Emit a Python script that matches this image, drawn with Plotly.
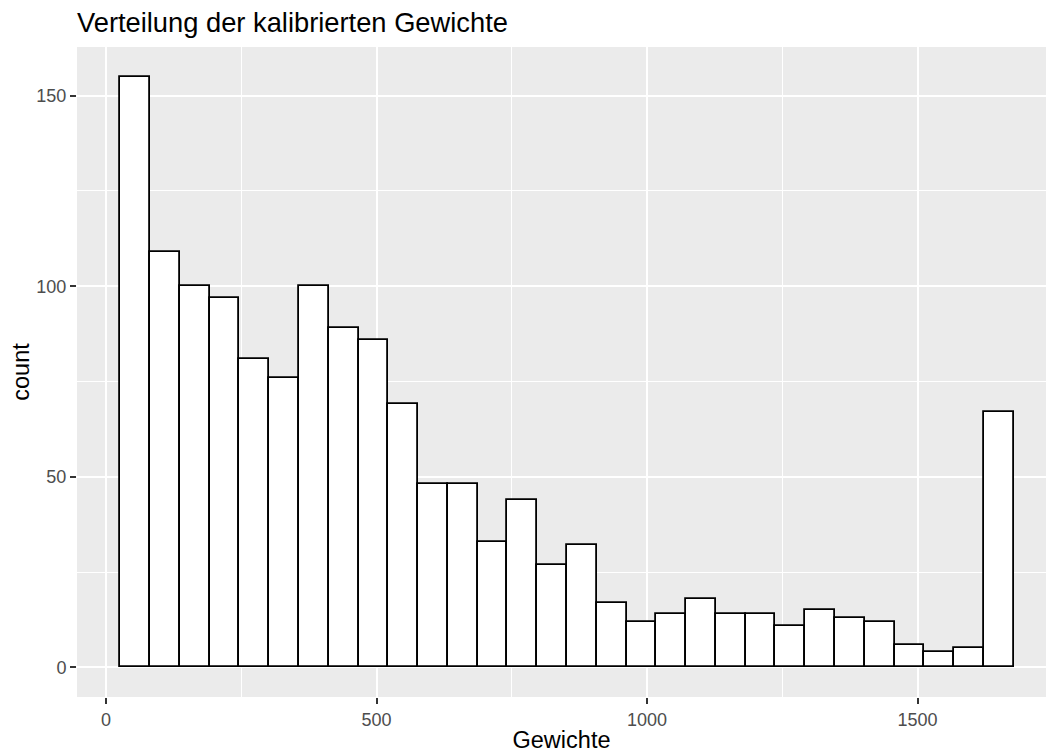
import plotly.graph_objects as go

# Histogram data (30 bins)
bin_start = 26.4
bin_width = 55.05
counts = [155, 109, 100, 97, 81, 76, 100, 89, 86, 69,
          48, 48, 33, 44, 27, 32, 17, 12, 14, 18,
          14, 14, 11, 15, 13, 12, 6, 4, 5, 67]
x_ticks = [0, 500, 1000, 1500]
y_ticks = [0, 50, 100, 150]

title = "Verteilung der kalibrierten Gewichte"
x_title = "Gewichte"
y_title = "count"

centers = [bin_start + bin_width * (i + 0.5) for i in range(len(counts))]

fig = go.Figure()
fig.add_trace(go.Bar(
    x=centers, y=counts, width=bin_width,
    marker=dict(color="white", line=dict(color="black", width=1.8)),
    showlegend=False, hoverinfo="x+y",
))

font_family = "Liberation Sans, Arial, sans-serif"
H = 753
W = 1046
L = 77
px_per_unit = 0.541
x_lo = -53.6
x_hi = x_lo + (W - L) / px_per_unit

fig.update_layout(
    width=W, height=H,
    margin=dict(l=L, r=0, t=47, b=56),
    paper_bgcolor="white",
    plot_bgcolor="#EBEBEB",
    font=dict(family=font_family, color="black"),
    bargap=0,
    title=dict(text=title, x=0, xref="paper", xanchor="left",
               y=1 - 22 / H, yref="container", yanchor="middle",
               font=dict(size=27.3, color="black", family=font_family)),
    xaxis=dict(
        range=[x_lo, x_hi], tickvals=x_ticks, ticktext=[str(v) for v in x_ticks],
        showgrid=True, gridcolor="white", gridwidth=2,
        minor=dict(dtick=250, tick0=0, showgrid=True, gridcolor="white", gridwidth=1),
        ticks="outside", ticklen=6, tickwidth=1.5, tickcolor="#333333",
        tickfont=dict(size=18, color="#4D4D4D"),
        zeroline=False, showline=False,
        title=dict(text=x_title, font=dict(size=23.5, color="black"), standoff=5),
    ),
    yaxis=dict(
        range=[-7.75, 162.75], tickvals=y_ticks, ticktext=[str(v) for v in y_ticks],
        showgrid=True, gridcolor="white", gridwidth=2,
        minor=dict(dtick=25, tick0=0, showgrid=True, gridcolor="white", gridwidth=1),
        ticks="outside", ticklen=6, tickwidth=1.5, tickcolor="#333333",
        tickfont=dict(size=18, color="#4D4D4D"),
        zeroline=False, showline=False,
        title=dict(text=y_title, font=dict(size=23.5, color="black"), standoff=0),
    ),
)

fig.write_html(
    "out.html",
    config={"displayModeBar": False},
    post_script="document.body.style.margin='0';document.body.style.overflow='hidden';",
)
